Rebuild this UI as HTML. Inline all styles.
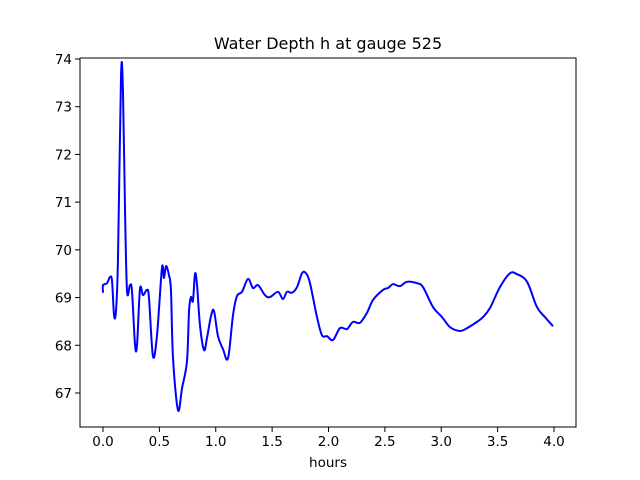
<!DOCTYPE html>
<html><head><meta charset="utf-8"><style>
body{margin:0;background:#fff}
svg{display:block;font-family:"DejaVu Sans","Liberation Sans",sans-serif}
</style></head><body>
<svg id="chart" width="640" height="480">
<rect width="640" height="480" fill="#fff"/>
<text x="328" y="49" text-anchor="middle" font-size="16">Water Depth h at gauge 525</text>
<g id="xt"></g><g id="yt"></g>
<path id="line" fill="none" stroke="#0000ff" stroke-width="2" stroke-linejoin="round"/>
<rect x="80" y="58" width="496" height="369" fill="none" stroke="#000" stroke-width="1"/>
<text x="328" y="467" text-anchor="middle" font-size="13.5">hours</text>
</svg>
<script>
const hours=[0,0,0.035,0.062,0.08,0.098,0.115,0.133,0.16,0.177,0.195,0.213,0.239,0.257,0.284,0.302,0.328,0.355,0.39,0.408,0.443,0.479,0.523,0.541,0.559,0.585,0.603,0.621,0.665,0.701,0.745,0.763,0.78,0.798,0.816,0.834,0.86,0.896,0.922,0.958,0.984,1.02,1.064,1.109,1.153,1.188,1.233,1.286,1.33,1.375,1.437,1.481,1.552,1.596,1.632,1.676,1.721,1.765,1.8,1.836,1.898,1.942,1.987,2.04,2.102,2.164,2.217,2.279,2.341,2.395,2.483,2.528,2.572,2.634,2.696,2.785,2.838,2.927,3.007,3.078,3.166,3.229,3.317,3.37,3.432,3.521,3.61,3.672,3.761,3.849,3.92,3.991];
const depth=[69.1,69.26,69.30,69.43,69.35,68.63,68.72,69.83,73.66,73.33,70.88,69.14,69.26,69.14,68.01,68.01,69.18,69.05,69.16,68.99,67.77,68.21,69.62,69.41,69.66,69.47,69.14,67.73,66.64,67.10,67.67,68.72,69.01,68.93,69.50,69.26,68.42,67.90,68.15,68.61,68.72,68.19,67.92,67.73,68.63,69.03,69.12,69.39,69.20,69.26,69.05,69.01,69.12,68.97,69.12,69.10,69.22,69.51,69.51,69.30,68.59,68.21,68.19,68.11,68.36,68.34,68.49,68.47,68.68,68.95,69.16,69.20,69.28,69.24,69.33,69.30,69.22,68.80,68.59,68.38,68.30,68.36,68.49,68.59,68.78,69.22,69.51,69.49,69.33,68.80,68.59,68.40];
const xTicks=[0,0.5,1,1.5,2,2.5,3,3.5,4];
const xTickLabels=["0.0","0.5","1.0","1.5","2.0","2.5","3.0","3.5","4.0"];
const yTicks=[67,68,69,70,71,72,73,74];
const yTickLabels=["67","68","69","70","71","72","73","74"];
const X=h=>103+h*112.75;
const Y=v=>59+(74-v)*47.71;
const NS="http://www.w3.org/2000/svg";
const xt=document.getElementById('xt'),yt=document.getElementById('yt');
xTicks.forEach((t,i)=>{
 const l=document.createElementNS(NS,'line');
 l.setAttribute('x1',X(t));l.setAttribute('x2',X(t));l.setAttribute('y1',427);l.setAttribute('y2',432);l.setAttribute('stroke','#000');
 
 
 xt.appendChild(l);
 const s=document.createElementNS(NS,'text');
 s.setAttribute('x',X(t));s.setAttribute('y',446);s.setAttribute('text-anchor','middle');s.setAttribute('font-size','13.5');
 s.textContent=xTickLabels[i];
 
 
 xt.appendChild(s);
});
yTicks.forEach((t,i)=>{
 const l=document.createElementNS(NS,'line');
 l.setAttribute('x1',75);l.setAttribute('x2',80);l.setAttribute('y1',Y(t));l.setAttribute('y2',Y(t));l.setAttribute('stroke','#000');
 
 
 yt.appendChild(l);
 const s=document.createElementNS(NS,'text');
 s.setAttribute('x',72);s.setAttribute('y',Y(t)+5);s.setAttribute('text-anchor','end');s.setAttribute('font-size','13.5');
 s.textContent=yTickLabels[i];
 
 
 yt.appendChild(s);
});
const P=hours.map((h,i)=>[X(h),Y(depth[i])]);
let d='M'+P[0][0]+','+P[0][1];
for(let i=0;i<P.length-1;i++){
 const p0=P[Math.max(0,i-1)],p1=P[i],p2=P[i+1],p3=P[Math.min(P.length-1,i+2)];
 const k=1/6;
 d+=' C'+(p1[0]+(p2[0]-p0[0])*k)+','+(p1[1]+(p2[1]-p0[1])*k)+' '+(p2[0]-(p3[0]-p1[0])*k)+','+(p2[1]-(p3[1]-p1[1])*k)+' '+p2[0]+','+p2[1];
}
document.getElementById('line').setAttribute('d',d);
</script>
</body></html>
